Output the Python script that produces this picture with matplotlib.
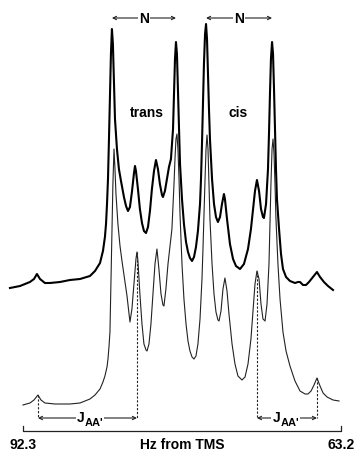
import numpy as np
import matplotlib
matplotlib.use("Agg")
import matplotlib.pyplot as plt

plt.rcParams['font.family'] = ['Liberation Sans Narrow', 'Liberation Sans', 'DejaVu Sans']

# observed spectrum (thick trace), Hz from TMS / intensity (arb.)
hz_obs = [93.49, 92.57, 91.66, 91.29, 91.02, 90.74, 90.29, 89.83, 88.91, 88.00,
          87.08, 86.17, 85.71, 85.25, 84.98, 84.80, 84.70, 84.61, 84.52, 84.43,
          84.34, 84.25, 84.16, 84.07, 83.97, 83.88, 83.70, 83.52, 83.33, 83.06,
          82.87, 82.69, 82.51, 82.33, 82.14, 82.05, 81.96, 81.78, 81.60, 81.41,
          81.23, 81.04, 80.86, 80.68, 80.50, 80.31, 80.13, 79.95, 79.77, 79.58,
          79.49, 79.31, 79.12, 78.94, 78.76, 78.57, 78.48, 78.39, 78.30, 78.21,
          78.12, 78.02, 77.93, 77.75, 77.57, 77.38, 77.20, 77.02, 76.83, 76.65,
          76.47, 76.29, 76.10, 76.01, 75.92, 75.83, 75.74, 75.64, 75.55, 75.46,
          75.37, 75.28, 75.19, 75.00, 74.82, 74.64, 74.46, 74.27, 74.09, 73.91,
          73.82, 73.63, 73.36, 73.08, 72.81, 72.44, 72.08, 71.71, 71.44, 71.25,
          71.07, 70.89, 70.70, 70.52, 70.34, 70.25, 70.06, 69.88, 69.79, 69.70,
          69.61, 69.51, 69.42, 69.33, 69.24, 69.15, 69.06, 68.87, 68.69, 68.51,
          68.23, 67.87, 67.41, 67.13, 66.95, 66.68, 66.40, 66.13, 65.76, 65.40,
          65.12, 64.76, 64.39, 63.93]
int_obs = [-3, -1, 3, 6, 11, 6, 2, 2, 3, 5,
           6, 9, 14, 22, 34, 48, 61, 81, 106, 146,
           191, 231, 256, 241, 201, 166, 136, 116, 104, 88,
           79, 74, 78, 93, 112, 119, 114, 96, 76, 62,
           54, 52, 58, 74, 96, 114, 125, 116, 101, 90,
           88, 94, 106, 118, 126, 156, 191, 226, 243, 231,
           196, 156, 121, 86, 61, 43, 33, 27, 24, 28,
           38, 54, 81, 106, 141, 181, 221, 251, 261, 246,
           211, 176, 146, 106, 81, 68, 63, 68, 81, 91,
           86, 66, 41, 26, 19, 16, 21, 36, 56, 76,
           94, 105, 94, 76, 68, 67, 81, 116, 151, 191,
           226, 243, 231, 196, 156, 116, 86, 56, 31, 16,
           8, 4, 2, 3, 3, 0, 0, 3, 8, 13,
           8, 3, -1, -5]

# calculated spectrum (thin trace)
hz_calc = [92.30, 91.66, 91.29, 90.93, 90.65, 90.29, 89.37, 88.00, 87.08, 86.17,
           85.71, 85.25, 84.98, 84.80, 84.61, 84.52, 84.43, 84.34, 84.25, 84.16,
           84.07, 83.97, 83.88, 83.79, 83.61, 83.42, 83.24, 82.97, 82.78, 82.60,
           82.51, 82.33, 82.14, 81.96, 81.87, 81.78, 81.60, 81.41, 81.23, 81.04,
           80.95, 80.77, 80.59, 80.40, 80.22, 80.04, 79.86, 79.67, 79.49, 79.40,
           79.22, 79.03, 78.85, 78.67, 78.48, 78.39, 78.30, 78.21, 78.12, 78.02,
           77.93, 77.75, 77.57, 77.38, 77.20, 77.02, 76.83, 76.65, 76.47, 76.29,
           76.10, 75.92, 75.83, 75.74, 75.64, 75.55, 75.46, 75.37, 75.28, 75.19,
           75.00, 74.82, 74.64, 74.46, 74.36, 74.18, 74.00, 73.82, 73.63, 73.45,
           73.17, 72.90, 72.63, 72.26, 71.98, 71.71, 71.44, 71.25, 71.07, 70.89,
           70.70, 70.52, 70.34, 70.15, 69.97, 69.79, 69.70, 69.61, 69.51, 69.42,
           69.33, 69.24, 69.15, 68.97, 68.78, 68.51, 68.23, 67.87, 67.41, 66.95,
           66.49, 66.22, 65.94, 65.67, 65.40, 65.12, 64.84, 64.48, 63.93, 63.38]
int_calc = [-1, 1, 4, 9, 4, 1, 0, 0, 1, 5,
            9, 15, 22, 28, 37, 45, 57, 72, 122, 175,
            220, 255, 235, 210, 180, 158, 143, 122, 108, 90,
            82, 95, 120, 145, 152, 143, 110, 80, 60, 54,
            53, 60, 80, 110, 140, 155, 135, 110, 99, 98,
            115, 140, 158, 175, 220, 245, 265, 270, 255, 225,
            190, 140, 105, 80, 63, 53, 47, 45, 48, 60,
            85, 125, 155, 190, 225, 255, 269, 255, 220, 185,
            140, 110, 92, 84, 83, 93, 115, 126, 113, 90,
            60, 40, 28, 24, 27, 40, 65, 93, 120, 133,
            125, 100, 85, 83, 100, 140, 180, 220, 255, 265,
            250, 220, 185, 140, 105, 72, 53, 38, 23, 13,
            10, 10, 13, 19, 26, 18, 11, 7, 4, 3]

# coupling marks (J_AA') and N separations, Hz
j_left = (90.93, 81.87)
j_right = (70.89, 65.40)
n_trans = (84.16, 78.30)
n_cis = (75.55, 69.51)
hz_left, hz_right = 92.3, 63.2

offset = 119  # vertical shift of the observed trace

fig = plt.figure(figsize=(3.55, 4.52), dpi=100)
ax = fig.add_axes([0, 0, 1, 1])
ax.set_xlim(94.40, 61.92)
ax.set_ylim(-47, 405)
ax.axis('off')

ax.plot(hz_obs, np.array(int_obs) + offset, color='black', lw=1.5, solid_joinstyle='round')
ax.plot(hz_calc, int_calc, color='#222222', lw=0.8)

fkw = dict(fontsize=10, fontweight='bold', ha='center', va='center')
arrow = dict(arrowstyle='<->', lw=0.8, mutation_scale=6, shrinkA=0, shrinkB=0, color='#222222')

# N arrows
for a, b in [n_trans, n_cis]:
    ax.annotate('', xy=(b, 386), xytext=(a, 386), arrowprops=arrow)
    ax.text((a + b) / 2, 386, 'N', bbox=dict(fc='white', ec='none', pad=1), **fkw)

ax.text(81.0, 292, 'trans', **fkw)
ax.text(72.6, 292, 'cis', **fkw)

# dashed drops from calculated peaks down to J arrows
hz_c = np.array(hz_calc)
for h in list(j_left) + list(j_right):
    top = int_calc[int(np.argmin(np.abs(hz_c - h)))]
    ax.plot([h, h], [top, -14], color='#222222', lw=0.8, ls=(0, (2, 1.5)))

for (a, b), lx in [(j_left, 87.0), (j_right, 69.1)]:
    ax.annotate('', xy=(b, -14), xytext=(a, -14), arrowprops=arrow)
    ax.text(lx - 0.35, -18, "AA'", fontsize=8, fontweight='bold', ha='left', va='center',
            bbox=dict(fc='white', ec='none', pad=0.5))
    ax.text(lx, -13, 'J', bbox=dict(fc='white', ec='none', pad=1), **fkw)

# Hz scale bracket
ax.plot([hz_left, hz_left, hz_right, hz_right], [-22, -27, -27, -22], color='#222222', lw=0.9)
ax.text(hz_left, -40, '92.3', **fkw)
ax.text(77.75, -40, 'Hz from TMS', **fkw)
ax.text(hz_right, -40, '63.2', **fkw)

fig.savefig('out.png', dpi=100)
